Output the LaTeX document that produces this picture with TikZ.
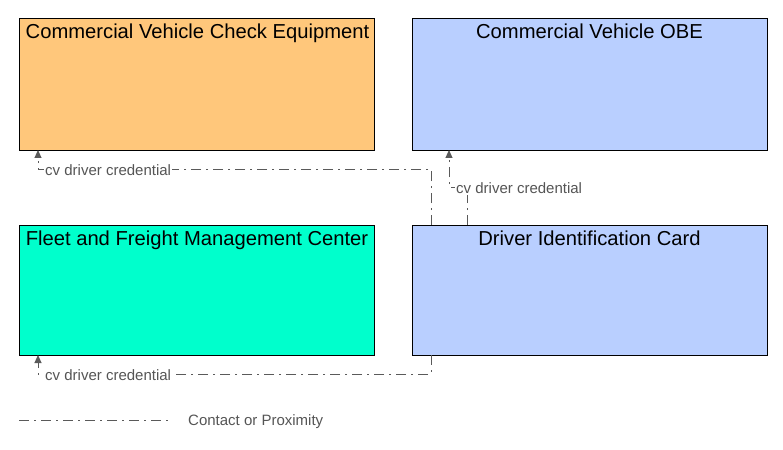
\documentclass[tikz,border=0pt]{standalone}
\usepackage{fontspec}
\setmainfont{Liberation Sans}
\usetikzlibrary{arrows.meta}
\definecolor{cvorange}{RGB}{255,199,123}
\definecolor{cvblue}{RGB}{185,207,255}
\definecolor{cvteal}{RGB}{0,255,204}
\definecolor{linegray}{RGB}{90,90,90}
\definecolor{labelgray}{RGB}{85,85,85}
\tikzset{
  ent/.style={draw=black, line width=1pt, minimum width=355pt, minimum height=132pt, anchor=north west, inner sep=0pt},
  enttitle/.style={anchor=north, font=\fontsize{20.2}{22}\selectfont, inner sep=0pt, text=black},
  flow/.style={draw=linegray, line width=1pt, dash pattern=on 10pt off 5pt on 2pt off 5pt, -{Triangle[width=7pt,length=8pt]}},
  flowlabel/.style={anchor=west, fill=white, inner sep=1pt, text=labelgray, font=\fontsize{15}{17}\selectfont},
}
\begin{document}
\begin{tikzpicture}[x=1pt,y=-1pt]
\useasboundingbox (0,0) rectangle (783,449);
% entities
\node[ent, fill=cvorange] (cve) at (19,18) {};
\node[enttitle] (cvet) at (197.5,23.5) {Commercial Vehicle Check Equipment};
\node[ent, fill=cvblue] (obe) at (412,18) {};
\node[enttitle] (obet) at (589.5,23.5) {Commercial Vehicle OBE};
\node[ent, fill=cvteal, minimum height=130pt] (ffm) at (19,225) {};
\node[enttitle] (ffmt) at (197,230.5) {Fleet and Freight Management Center};
\node[ent, fill=cvblue, minimum height=130pt] (dic) at (412,225) {};
\node[enttitle] (dict) at (589.5,230.5) {Driver Identification Card};
% connector coordinates
\coordinate (s1) at (431,225);
\coordinate (e1) at (38,150);
\coordinate (s2) at (467,225);
\coordinate (e2) at (449,150);
\coordinate (s3) at (431,355);
\coordinate (e3) at (38,355);
% flows
\draw[flow] (s1) -- (431,169) -- (38,169) -- (e1);
\node[flowlabel] (l1) at (44,170) {cv driver credential};
\draw[flow] (s2) -- (467,187) -- (449,187) -- (e2);
\node[flowlabel] (l2) at (455,188) {cv driver credential};
\draw[flow] (s3) -- (431,374) -- (38,374) -- (e3);
\node[flowlabel] (l3) at (44,375) {cv driver credential};
% legend
\coordinate (lg1) at (19,420);
\coordinate (lg2) at (170,420);
\draw[draw=linegray, line width=1pt, dash pattern=on 10pt off 5pt on 2pt off 5pt] (lg1) -- (lg2);
\node[anchor=west, inner sep=0pt, text=labelgray, font=\fontsize{15}{17}\selectfont] (lgt) at (188,421.5) {Contact or Proximity};
\end{tikzpicture}
\end{document}
